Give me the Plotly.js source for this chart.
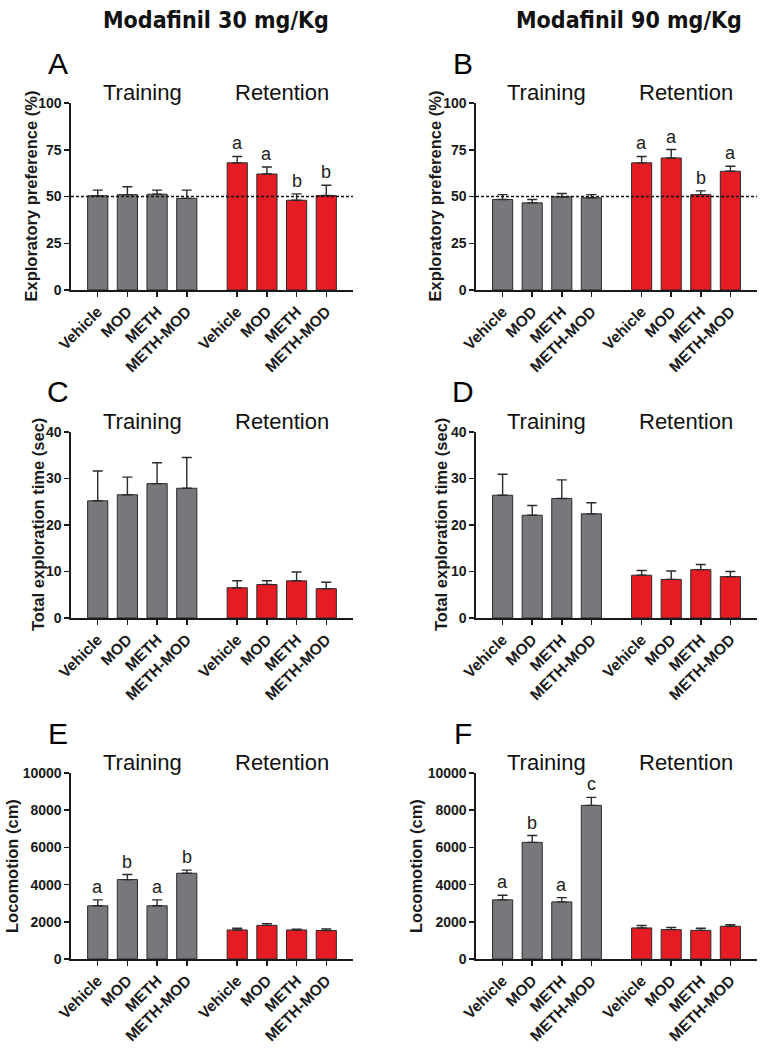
<!DOCTYPE html>
<html>
<head>
<meta charset="utf-8">
<script src="https://cdn.plot.ly/plotly-3.0.1.min.js"></script>
<style>
  html, body { margin: 0; padding: 0; background: #fff; }
  #plot { width: 763px; height: 1050px; }
</style>
</head>
<body>
<div id="plot"></div>
<script>
// categories
const treatments = ["Vehicle", "MOD", "METH", "METH-MOD"];
const phases = ["Training", "Retention"];
const doseTitles = ["Modafinil 30 mg/Kg", "Modafinil 90 mg/Kg"];

// A - exploratory preference, 30 mg/Kg
const prefA_train = [50.4, 51.0, 51.2, 49.0];
const prefA_trainSem = [3.0, 4.2, 2.2, 4.4];
const prefA_ret = [68.0, 62.0, 48.0, 50.5];
const prefA_retSem = [3.4, 3.8, 3.4, 5.5];
const prefA_retSig = ["a", "a", "b", "b"];

// B - exploratory preference, 90 mg/Kg
const prefB_train = [48.4, 46.6, 49.8, 49.3];
const prefB_trainSem = [2.6, 1.8, 1.8, 1.7];
const prefB_ret = [68.0, 70.6, 51.0, 63.5];
const prefB_retSem = [3.4, 4.5, 2.0, 2.7];
const prefB_retSig = ["a", "a", "b", "a"];

const chanceLevel = 50;

// C - total exploration time, 30 mg/Kg
const timeC_train = [25.2, 26.5, 28.9, 27.9];
const timeC_trainSem = [6.4, 3.8, 4.5, 6.6];
const timeC_ret = [6.5, 7.2, 8.0, 6.3];
const timeC_retSem = [1.5, 0.8, 1.9, 1.4];

// D - total exploration time, 90 mg/Kg
const timeD_train = [26.4, 22.1, 25.7, 22.4];
const timeD_trainSem = [4.5, 2.1, 4.0, 2.4];
const timeD_ret = [9.2, 8.3, 10.4, 8.9];
const timeD_retSem = [1.0, 1.8, 1.1, 1.1];

// E - locomotion, 30 mg/Kg
const locE_train = [2860, 4270, 2860, 4610];
const locE_trainSem = [320, 270, 320, 170];
const locE_trainSig = ["a", "b", "a", "b"];
const locE_ret = [1560, 1810, 1560, 1530];
const locE_retSem = [90, 90, 40, 90];

// F - locomotion, 90 mg/Kg
const locF_train = [3180, 6270, 3070, 8260];
const locF_trainSem = [250, 370, 230, 430];
const locF_trainSig = ["a", "b", "a", "c"];
const locF_ret = [1670, 1580, 1540, 1760];
const locF_retSem = [130, 110, 110, 90];

// y axis ticks
const prefTicks = [0, 25, 50, 75, 100];
const timeTicks = [0, 10, 20, 30, 40];
const locTicks = [0, 2000, 4000, 6000, 8000, 10000];

const FONT = "Liberation Sans, Arial, sans-serif";
const GRAY = "#76787c";
const RED = "#e61c24";
const GROUP_OFFSET = 4.7;

const W = 763, H = 1050;
const colX = [[71, 353], [476, 757]];
const rowY = [[103, 290], [432, 618], [773, 959]];

const panels = [
  { letter: "A", col: 0, row: 0, yTitle: "Exploratory preference (%)", ticks: prefTicks,
    train: prefA_train, trainSem: prefA_trainSem, ret: prefA_ret, retSem: prefA_retSem,
    retSig: prefA_retSig, chance: true, titleX: 30 },
  { letter: "B", col: 1, row: 0, yTitle: "Exploratory preference (%)", ticks: prefTicks,
    train: prefB_train, trainSem: prefB_trainSem, ret: prefB_ret, retSem: prefB_retSem,
    retSig: prefB_retSig, chance: true, titleX: 434 },
  { letter: "C", col: 0, row: 1, yTitle: "Total exploration time (sec)", ticks: timeTicks,
    train: timeC_train, trainSem: timeC_trainSem, ret: timeC_ret, retSem: timeC_retSem, titleX: 38 },
  { letter: "D", col: 1, row: 1, yTitle: "Total exploration time (sec)", ticks: timeTicks,
    train: timeD_train, trainSem: timeD_trainSem, ret: timeD_ret, retSem: timeD_retSem, titleX: 441 },
  { letter: "E", col: 0, row: 2, yTitle: "Locomotion (cm)", ticks: locTicks,
    train: locE_train, trainSem: locE_trainSem, ret: locE_ret, retSem: locE_retSem,
    trainSig: locE_trainSig, titleX: 12 },
  { letter: "F", col: 1, row: 2, yTitle: "Locomotion (cm)", ticks: locTicks,
    train: locF_train, trainSem: locF_trainSem, ret: locF_ret, retSem: locF_retSem,
    trainSig: locF_trainSig, titleX: 416 },
];

const traces = [];
const annotations = [];
const shapes = [];
const layout = {
  width: W, height: H,
  margin: { l: 0, r: 0, t: 0, b: 0 },
  paper_bgcolor: "#fff", plot_bgcolor: "rgba(0,0,0,0)",
  showlegend: false,
  font: { family: FONT, color: "#1a1a1a" },
  bargap: 0,
};

const xpos = (g) => treatments.map((_, i) => g * GROUP_OFFSET + i);

panels.forEach((p, k) => {
  const n = k === 0 ? "" : String(k + 1);
  const xa = "x" + n, ya = "y" + n;
  const [x0, x1] = colX[p.col];
  const [y0, y1] = rowY[p.row];
  const yMax = p.ticks[p.ticks.length - 1];

  [[p.train, p.trainSem, GRAY, 0], [p.ret, p.retSem, RED, 1]].forEach(([vals, sem, col, g]) => {
    traces.push({
      type: "bar", x: xpos(g), y: vals, xaxis: xa, yaxis: ya,
      width: 0.68,
      marker: { color: col, line: { color: "#2b2b2b", width: 1 } },
      error_y: { type: "data", symmetric: false, array: sem, arrayminus: sem.map(() => 0),
                 color: "#2b2b2b", thickness: 1.4, width: 5 },
      hoverinfo: "skip",
    });
  });

  layout["xaxis" + n] = {
    domain: [x0 / W, x1 / W], anchor: ya,
    range: [-0.9, 8.6],
    tickvals: xpos(0).concat(xpos(1)),
    ticktext: treatments.concat(treatments),
    tickangle: -45,
    tickfont: { family: FONT, size: 15.5, color: "#1a1a1a", weight: "bold" },
    ticks: "outside", ticklen: 5, tickwidth: 1.5, tickcolor: "#1a1a1a",
    showline: true, linecolor: "#1a1a1a", linewidth: 1.6,
    showgrid: false, zeroline: false, fixedrange: true,
  };
  layout["yaxis" + n] = {
    domain: [1 - y1 / H, 1 - y0 / H], anchor: xa,
    range: [0, yMax],
    tickvals: p.ticks,
    tickformat: "d",
    tickfont: { family: FONT, size: 14, color: "#1a1a1a", weight: "bold" },
    ticks: "outside", ticklen: 5, tickwidth: 1.5, tickcolor: "#1a1a1a",
    showline: true, linecolor: "#1a1a1a", linewidth: 1.6,
    showgrid: false, zeroline: false, fixedrange: true,
  };

  // panel letter
  annotations.push({
    xref: "paper", yref: "paper", x: (x0 - 13) / W, y: 1 - (y0 - 40) / H,
    xanchor: "center", yanchor: "middle", showarrow: false,
    text: p.letter, font: { family: FONT, size: 30, color: "#000" },
  });

  // phase headers
  phases.forEach((ph, g) => {
    annotations.push({
      xref: xa, yref: ya + " domain", x: g * GROUP_OFFSET + 1.5, y: 1 + 11 / (y1 - y0),
      xanchor: "center", yanchor: "middle", showarrow: false,
      text: ph, font: { family: FONT, size: 22, color: "#111" },
    });
  });

  // y title
  annotations.push({
    xref: "paper", yref: "paper", x: p.titleX / W, y: 1 - ((y0 + y1) / 2) / H,
    xanchor: "center", yanchor: "middle", showarrow: false, textangle: -90,
    text: "<b>" + p.yTitle + "</b>", font: { family: FONT, size: 16.5, color: "#1a1a1a" },
  });

  // significance letters
  const sig = (letters, vals, sem, g) => {
    if (!letters) return;
    letters.forEach((t, i) => {
      annotations.push({
        xref: xa, yref: ya, x: g * GROUP_OFFSET + i, y: vals[i] + sem[i],
        xanchor: "center", yanchor: "bottom", yshift: 1, showarrow: false,
        text: t, font: { family: FONT, size: 18, color: "#222" },
      });
    });
  };
  sig(p.trainSig, p.train, p.trainSem, 0);
  sig(p.retSig, p.ret, p.retSem, 1);

  if (p.chance) {
    shapes.push({
      type: "line", xref: xa + " domain", yref: ya, x0: 0, x1: 1, y0: chanceLevel, y1: chanceLevel,
      line: { color: "#111", width: 1.5, dash: "3px,2px" },
    });
  }
});

// dose column titles
doseTitles.forEach((t, c) => {
  annotations.push({
    xref: "paper", yref: "paper", x: [216, 629][c] / W, y: 1 - 20 / H,
    xanchor: "center", yanchor: "middle", showarrow: false,
    text: "<b>" + t + "</b>",
    font: { family: "Liberation Sans Narrow, Arial Narrow, DejaVu Sans Condensed, sans-serif", size: 23, color: "#111" },
  });
});

layout.annotations = annotations;
layout.shapes = shapes;

Plotly.newPlot("plot", traces, layout, { staticPlot: true, displayModeBar: false });
</script>
</body>
</html>
